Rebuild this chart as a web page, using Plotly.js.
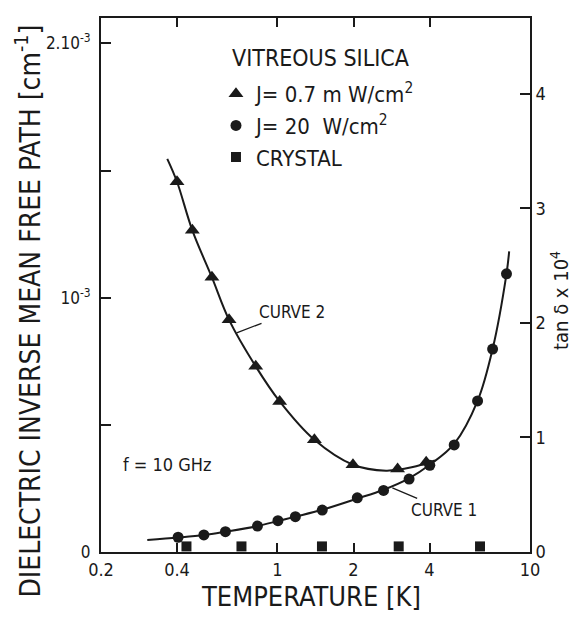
<!DOCTYPE html>
<html>
<head>
<meta charset="utf-8">
<script src="https://cdn.plot.ly/plotly-3.0.1.min.js"></script>
<style>html,body{margin:0;padding:0;background:#fff;}#chart{width:572px;height:618px;}</style>
</head>
<body>
<div id="chart"></div>
<script>
// Triangles: J = 0.7 mW/cm2 (temperature K, inverse mean free path cm^-1)
var triT = [0.40, 0.46, 0.55, 0.643, 0.82, 1.02, 1.40, 1.99, 2.99, 3.88];
var triV = [1.456e-3, 1.265e-3, 1.080e-3, 0.913e-3, 0.730e-3, 0.592e-3, 0.441e-3, 0.343e-3, 0.326e-3, 0.353e-3];
// Circles: J = 20 W/cm2
var cirT = [0.404, 0.511, 0.622, 0.833, 1.004, 1.177, 1.504, 2.07, 2.63, 3.32, 4.01, 5.01, 6.20, 7.11, 8.07];
var cirV = [0.058e-3, 0.067e-3, 0.080e-3, 0.102e-3, 0.123e-3, 0.139e-3, 0.165e-3, 0.213e-3, 0.242e-3, 0.287e-3, 0.341e-3, 0.421e-3, 0.594e-3, 0.798e-3, 1.094e-3];
// Squares: crystal
var sqT = [0.436, 0.72, 1.50, 3.02, 6.34];
var sqV = [0.022e-3, 0.022e-3, 0.022e-3, 0.022e-3, 0.022e-3];
// Curve 1 (fit through circles)
var c1T = [0.305, 0.404, 0.511, 0.622, 0.833, 1.004, 1.177, 1.504, 2.07, 2.63, 3.32, 4.01, 5.01, 6.20, 7.11, 8.07, 8.27];
var c1V = [0.047e-3, 0.057e-3, 0.067e-3, 0.080e-3, 0.102e-3, 0.122e-3, 0.139e-3, 0.166e-3, 0.210e-3, 0.245e-3, 0.290e-3, 0.343e-3, 0.425e-3, 0.594e-3, 0.798e-3, 1.094e-3, 1.182e-3];
// Curve 2 (fit through triangles)
var c2T = [0.366, 0.40, 0.46, 0.55, 0.643, 0.82, 1.02, 1.40, 1.99, 2.69, 3.40, 4.20];
var c2V = [1.546e-3, 1.456e-3, 1.265e-3, 1.080e-3, 0.913e-3, 0.730e-3, 0.592e-3, 0.441e-3, 0.343e-3, 0.320e-3, 0.333e-3, 0.360e-3];
// Tick labels
var xTicks = [0.2, 0.4, 1, 2, 4, 10];
var xTickText = ['0.2', '0.4', '1', '2', '4', '10'];
var yTicks = [0, 0.5e-3, 1e-3, 1.5e-3, 2e-3];
var yTickText = ['0', '', '10<sup>-3</sup>', '', '2.10<sup>-3</sup>'];
var y2Ticks = [0, 1, 2, 3, 4];
var y2TickText = ['0', '1', '2', '3', '4'];

var FONT = 'DejaVu Sans Condensed, Liberation Sans Narrow, DejaVu Sans, sans-serif';
var INK = '#1a1a1a';

var traces = [
  {x: c1T, y: c1V, mode: 'lines', line: {color: INK, width: 2, shape: 'spline', smoothing: 1}, showlegend: false, hoverinfo: 'skip'},
  {x: c2T, y: c2V, mode: 'lines', line: {color: INK, width: 2, shape: 'spline', smoothing: 1}, showlegend: false, hoverinfo: 'skip'},
  {x: triT, y: triV, mode: 'markers', name: 'J= 0.7 m W/cm<sup>2</sup>', legendgroup: 'a',
   marker: {symbol: 'triangle-up', size: 13, color: INK}},
  {x: cirT, y: cirV, mode: 'markers', name: 'J= 20  W/cm<sup>2</sup>', legendgroup: 'b',
   marker: {symbol: 'circle', size: 11, color: INK}},
  {x: sqT, y: sqV, mode: 'markers', name: 'CRYSTAL', legendgroup: 'c',
   marker: {symbol: 'square', size: 10, color: INK}},
  // empty trace that only switches on the right-hand (tan delta) axis
  {x: [], y: [], yaxis: 'y2', mode: 'markers', showlegend: false, hoverinfo: 'skip'}
];

var layout = {
  width: 572, height: 618,
  margin: {l: 101, r: 42, t: 18, b: 66},
  paper_bgcolor: '#fff', plot_bgcolor: '#fff',
  font: {family: FONT, color: INK, size: 16},
  showlegend: true,
  legend: {x: 0.268, y: 0.897, xanchor: 'left', yanchor: 'top', bgcolor: 'rgba(0,0,0,0)',
    font: {family: FONT, size: 22, color: INK}, tracegroupgap: 0},
  xaxis: {type: 'log', range: [Math.log10(0.2), 1], tickvals: xTicks, ticktext: xTickText,
    ticks: 'inside', ticklen: 9, tickwidth: 2, tickcolor: INK, showline: true, linewidth: 2, linecolor: INK,
    mirror: 'ticks', showgrid: false, zeroline: false, tickfont: {size: 18}},
  yaxis: {range: [0, 2.1e-3], tickvals: yTicks, ticktext: yTickText, ticks: 'inside', ticklen: 10,
    tickwidth: 2, tickcolor: INK, showline: true, linewidth: 2, linecolor: INK, showgrid: false,
    zeroline: false, tickfont: {size: 17}, ticklabelstandoff: 5},
  yaxis2: {overlaying: 'y', side: 'right', range: [0, 4.66], tickvals: y2Ticks, ticktext: y2TickText,
    ticks: 'inside', ticklen: 10, tickwidth: 2, tickcolor: INK, showline: true, linewidth: 2, linecolor: INK,
    showgrid: false, zeroline: false, tickfont: {size: 18}},
  annotations: [
    {xref: 'paper', yref: 'paper', x: 129 / 429, y: 0.926, xanchor: 'left', yanchor: 'middle',
     showarrow: false, text: 'VITREOUS SILICA', font: {family: FONT, size: 23, color: INK}},
    {xref: 'paper', yref: 'paper', x: -0.168, y: 0.452, xanchor: 'center', yanchor: 'middle',
     textangle: -90, showarrow: false, text: 'DIELECTRIC INVERSE MEAN FREE PATH [cm<sup>-1</sup>]',
     font: {family: FONT, size: 28, color: INK}},
    {xref: 'paper', yref: 'paper', x: 1.07, y: 0.47, xanchor: 'center', yanchor: 'middle',
     textangle: -90, showarrow: false, text: 'tan δ x 10<sup>4</sup>',
     font: {family: FONT, size: 20, color: INK}},
    {xref: 'paper', yref: 'paper', x: 0.49, y: -0.084, xanchor: 'center', yanchor: 'middle',
     showarrow: false, text: 'TEMPERATURE [K]', font: {family: FONT, size: 27, color: INK}},
    {xref: 'paper', yref: 'paper', x: 0.156, y: 0.163, xanchor: 'center', yanchor: 'middle',
     showarrow: false, text: 'f = 10 GHz', font: {family: FONT, size: 18, color: INK}},
    {xref: 'x', yref: 'y', x: Math.log10(0.689), y: 0.862e-3, ax: 55, ay: -21, showarrow: true,
     arrowhead: 0, arrowwidth: 1.3, arrowcolor: INK, text: 'CURVE 2', font: {family: FONT, size: 17, color: INK}},
    {xref: 'x', yref: 'y', x: Math.log10(2.85), y: 0.252e-3, ax: 52, ay: 22, showarrow: true,
     arrowhead: 0, arrowwidth: 1.3, arrowcolor: INK, text: 'CURVE 1', font: {family: FONT, size: 17, color: INK}}
  ]
};

Plotly.newPlot('chart', traces, layout, {staticPlot: true, displayModeBar: false});
</script>
</body>
</html>
